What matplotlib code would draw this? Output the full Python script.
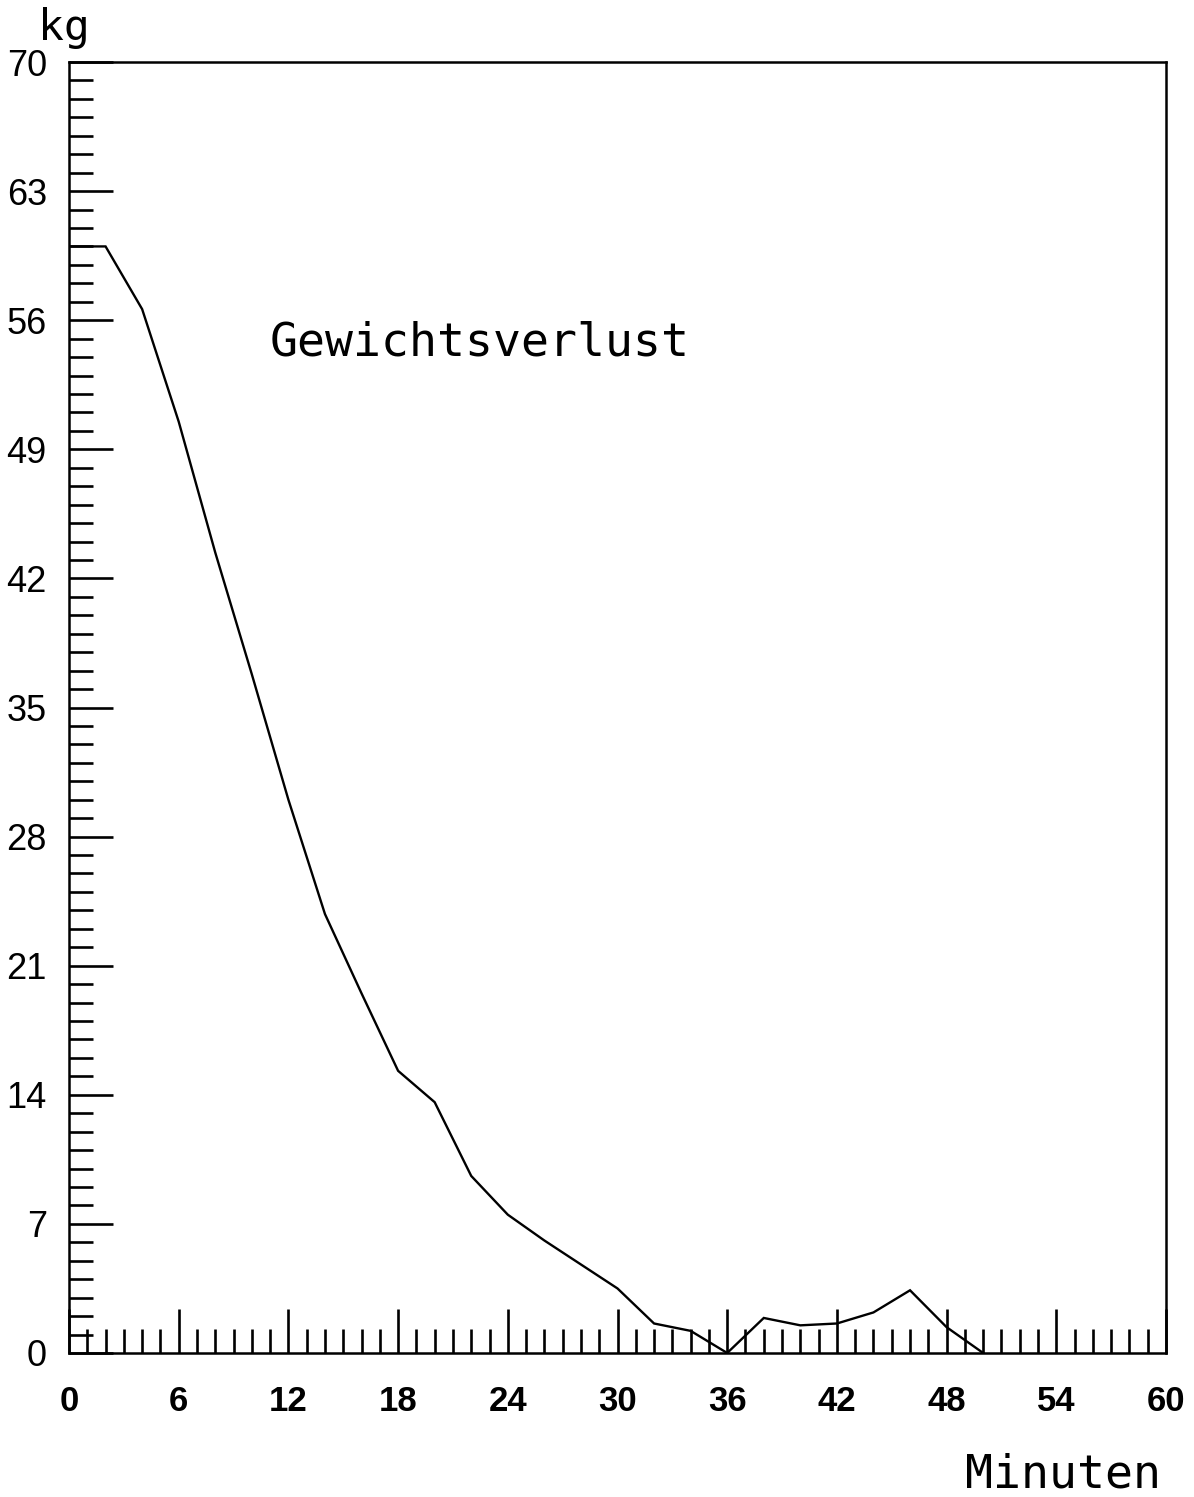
import matplotlib
matplotlib.use("Agg")
import matplotlib.pyplot as plt
from matplotlib.ticker import MultipleLocator

# Data
minutes = [0, 2, 4, 6, 8, 10, 12, 14, 16, 18, 20, 22, 24, 26, 28, 30, 32, 34, 36, 38, 40, 42, 44, 46, 48, 50]
weight_kg = [60.0, 60.0, 56.6, 50.5, 43.4, 36.8, 30.0, 23.8, 19.5, 15.3, 13.6, 9.6, 7.5, 6.1, 4.8, 3.5, 1.6, 1.2, 0.0, 1.9, 1.5, 1.6, 2.2, 3.4, 1.4, 0.0]
x_ticks = [0, 6, 12, 18, 24, 30, 36, 42, 48, 54, 60]
y_ticks = [0, 7, 14, 21, 28, 35, 42, 49, 56, 63, 70]
title_text = "Gewichtsverlust"
x_label = "Minuten"
y_label = "kg"

W, H = 1194, 1497
fig = plt.figure(figsize=(W / 100, H / 100), dpi=100)
left, right, top, bottom = 69, 1166, 62, 1353
ax = fig.add_axes([left / W, 1 - bottom / H, (right - left) / W, (bottom - top) / H])

ax.plot(minutes, weight_kg, color="black", lw=1.7, solid_joinstyle="miter")

ax.set_xlim(0, 60)
ax.set_ylim(0, 70)
ax.set_xticks(x_ticks)
ax.set_yticks(y_ticks)
ax.xaxis.set_minor_locator(MultipleLocator(1))
ax.yaxis.set_minor_locator(MultipleLocator(1))

for s in ax.spines.values():
    s.set_linewidth(1.8)

ax.tick_params(axis="both", which="major", direction="in", length=32, width=1.9, color="black")
ax.tick_params(axis="both", which="minor", direction="in", length=17, width=1.9, color="black")
ax.tick_params(axis="x", which="major", pad=23)
ax.tick_params(axis="y", which="major", pad=16)

narrow = ["Liberation Sans", "DejaVu Sans"]
ax.set_xticklabels([str(v) for v in x_ticks], family=narrow, fontsize=25, fontweight="bold")
ax.set_yticklabels([str(v) for v in y_ticks], family=narrow, fontsize=26)

mono = ["DejaVu Sans Mono"]
ax.text(11, 54.1, title_text, family=mono, fontsize=33.5, va="baseline", ha="left")
fig.text(38 / W, 1 - 40 / H, y_label, family=mono, fontsize=31, va="baseline", ha="left")
fig.text(965 / W, 1 - 1487 / H, x_label, family=mono, fontsize=33.5, va="baseline", ha="left")

fig.savefig("out.png", dpi=100, facecolor="white")
